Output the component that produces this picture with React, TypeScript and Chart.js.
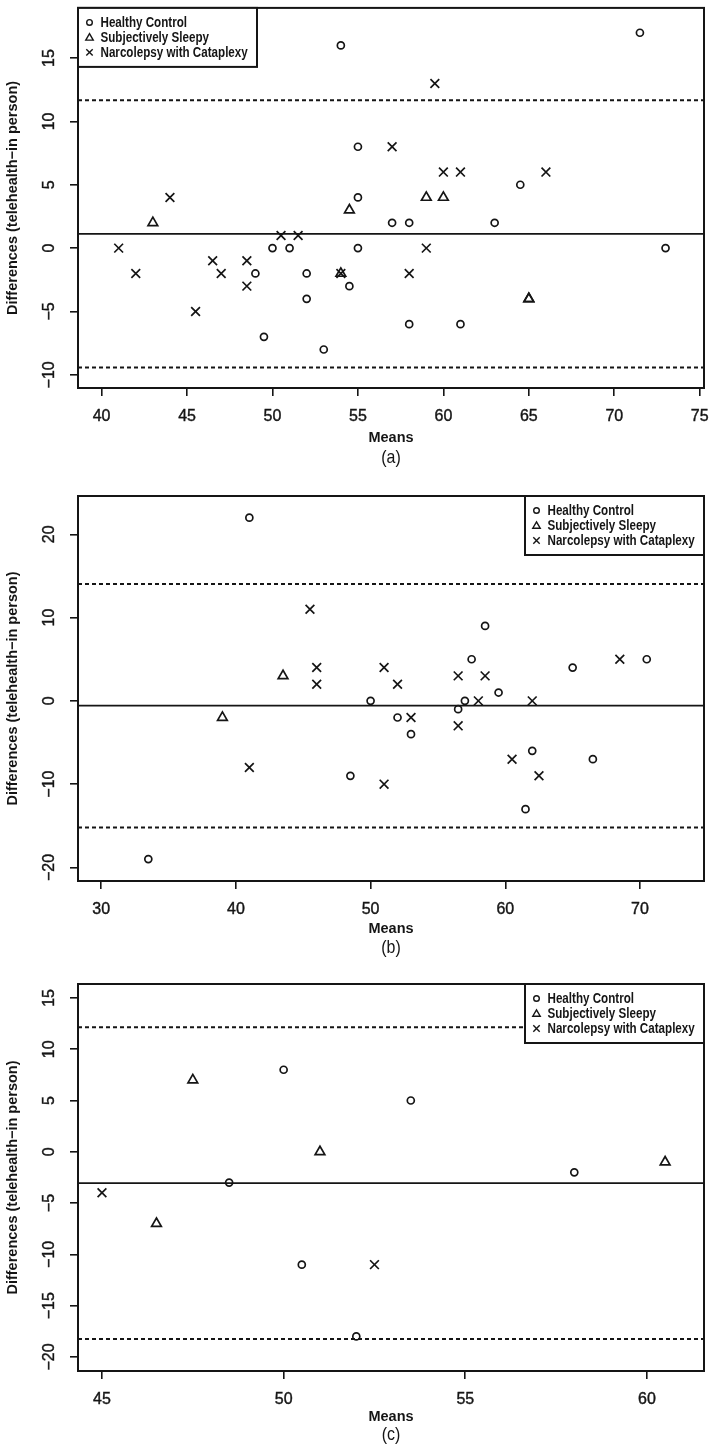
import React, { useEffect, useRef } from "react";
import { Chart, registerables } from "chart.js";

Chart.register(...registerables);

// ---------- text ----------
const SERIES_NAMES = ["Healthy Control", "Subjectively Sleepy", "Narcolepsy with Cataplexy"];
const X_TITLE = "Means";
const Y_TITLE = "Differences (telehealth\u2212in person)";

// ---------- panel (a) ----------
const aHealthyX = [54, 71.5, 55, 55, 64.5, 57, 58, 63, 50, 51, 55, 73, 49, 52, 52, 54.5, 49.5, 53, 58, 61];
const aHealthyY = [16, 17, 8, 4, 5, 2, 2, 2, 0, 0, 0, 0, -2, -2, -4, -3, -7, -8, -6, -6];
const aSleepyX = [43, 54.5, 59, 60, 54, 65, 65];
const aSleepyY = [2, 3, 4, 4, -2, -4, -4];
const aNarcoX = [41, 42, 44, 45.5, 46.5, 47, 48.5, 48.5, 50.5, 51.5, 54, 57, 59.5, 60, 61, 66, 58, 59];
const aNarcoY = [0, -2, 4, -5, -1, -2, -1, -3, 1, 1, -2, 8, 13, 6, 6, 6, -2, 0];
const aLines = [1.12, 11.67, -9.42]; // mean difference, upper and lower limits of agreement
const aXTicks = [40, 45, 50, 55, 60, 65, 70, 75];
const aYTicks = [-10, -5, 0, 5, 10, 15];
const aXRange = [38.62, 75.25];
const aYRange = [-11.04, 18.96];

// ---------- panel (b) ----------
const bHealthyX = [41, 58.5, 57.5, 59.5, 50, 57, 56.5, 52, 53, 62, 65, 70.5, 66.5, 48.5, 61.5, 33.5];
const bHealthyY = [22, 9, 5, 1, 0, 0, -1, -2, -4, -6, 4, 5, -7, -9, -13, -19];
const bSleepyX = [43.5, 39];
const bSleepyY = [3, -2];
const bNarcoX = [45.5, 46, 46, 51, 52, 56.5, 58.5, 58, 62, 56.5, 53, 60.5, 62.5, 41, 51, 68.5];
const bNarcoY = [11, 4, 2, 4, 2, 3, 3, 0, 0, -3, -2, -7, -9, -8, -10, 5];
const bLines = [-0.58, 14.03, -15.2];
const bXTicks = [30, 40, 50, 60, 70];
const bYTicks = [-20, -10, 0, 10, 20];
const bXRange = [28.28, 74.75];
const bYRange = [-21.63, 24.6];

// ---------- panel (c) ----------
const cHealthyX = [50, 53.5, 48.5, 58, 50.5, 52];
const cHealthyY = [8, 5, -3, -2, -11, -18];
const cSleepyX = [47.5, 51, 60.5, 46.5];
const cSleepyY = [7, 0, -1, -7];
const cNarcoX = [45, 52.5];
const cNarcoY = [-4, -11];
const cLines = [-3.05, 12.15, -18.25];
const cXTicks = [45, 50, 55, 60];
const cYTicks = [-20, -15, -10, -5, 0, 5, 10, 15];
const cXRange = [44.34, 61.57];
const cYRange = [-21.37, 16.36];

// ---------- styling ----------
const INK = "#151515";
const TICK_FONT = '16px "Liberation Sans", Arial, sans-serif';
const TITLE_FONT = 'bold 14.5px "Liberation Sans", Arial, sans-serif';
const LEGEND_FONT = 'bold 14px "Liberation Sans", Arial, sans-serif';
const LEGEND_SQUEEZE = 0.83;
const CAPTION_FONT = '19px "Liberation Sans", Arial, sans-serif';
const CAPTION_SQUEEZE = 0.84;

type PanelCfg = {
  caption: string;
  height: number;
  padTop: number;
  xAxisH: number;
  meansOff: number;
  capOff: number;
  legendSide: "left" | "right";
  series: { x: number[]; y: number[] }[];
  lines: number[];
  xTicks: number[];
  yTicks: number[];
  xRange: number[];
  yRange: number[];
};

const PANELS: PanelCfg[] = [
  {
    caption: "(a)", height: 480, padTop: 4, xAxisH: 92, meansOff: 50, capOff: 70, legendSide: "left",
    series: [{ x: aHealthyX, y: aHealthyY }, { x: aSleepyX, y: aSleepyY }, { x: aNarcoX, y: aNarcoY }],
    lines: aLines, xTicks: aXTicks, yTicks: aYTicks, xRange: aXRange, yRange: aYRange,
  },
  {
    caption: "(b)", height: 490, padTop: 16, xAxisH: 89, meansOff: 48, capOff: 67, legendSide: "right",
    series: [{ x: bHealthyX, y: bHealthyY }, { x: bSleepyX, y: bSleepyY }, { x: bNarcoX, y: bNarcoY }],
    lines: bLines, xTicks: bXTicks, yTicks: bYTicks, xRange: bXRange, yRange: bYRange,
  },
  {
    caption: "(c)", height: 482, padTop: 14, xAxisH: 81, meansOff: 46, capOff: 64, legendSide: "right",
    series: [{ x: cHealthyX, y: cHealthyY }, { x: cSleepyX, y: cSleepyY }, { x: cNarcoX, y: cNarcoY }],
    lines: cLines, xTicks: cXTicks, yTicks: cYTicks, xRange: cXRange, yRange: cYRange,
  },
];

const POINT_STYLES = ["circle", "triangle", "crossRot"];
const POINT_RADII = [3.5, 5.6, 6.2];

function fmt(v: number) {
  return v < 0 ? "\u2212" + Math.abs(v) : String(v);
}

function drawSymbol(ctx: CanvasRenderingContext2D, kind: number, x: number, y: number) {
  ctx.beginPath();
  if (kind === 0) {
    ctx.arc(x, y, 2.8, 0, Math.PI * 2);
  } else if (kind === 1) {
    const r = 4.3;
    for (let i = 0; i < 3; i++) {
      const a = (i * 2 * Math.PI) / 3;
      const px = x + Math.sin(a) * r;
      const py = y + 0.6 - Math.cos(a) * r;
      if (i === 0) ctx.moveTo(px, py);
      else ctx.lineTo(px, py);
    }
    ctx.closePath();
  } else {
    const d = 3.2;
    ctx.moveTo(x - d, y - d);
    ctx.lineTo(x + d, y + d);
    ctx.moveTo(x + d, y - d);
    ctx.lineTo(x - d, y + d);
  }
  ctx.stroke();
}

function squeezedText(ctx: CanvasRenderingContext2D, text: string, x: number, y: number, k: number) {
  ctx.save();
  ctx.translate(x, y);
  ctx.scale(k, 1);
  ctx.fillText(text, 0, 0);
  ctx.restore();
}

function makePlugin(cfg: PanelCfg) {
  return {
    id: "rstyle",
    beforeDatasetsDraw(chart: any) {
      const { ctx, chartArea: a, scales } = chart;
      const ys = scales.y;
      ctx.save();
      ctx.beginPath();
      ctx.rect(a.left, a.top, a.right - a.left, a.bottom - a.top);
      ctx.clip();
      cfg.lines.forEach((v, i) => {
        const py = ys.getPixelForValue(v);
        ctx.strokeStyle = INK;
        ctx.lineWidth = i === 0 ? 1.7 : 2;
        ctx.setLineDash(i === 0 ? [] : [4, 3]);
        ctx.beginPath();
        ctx.moveTo(a.left, py);
        ctx.lineTo(a.right, py);
        ctx.stroke();
      });
      ctx.restore();
    },
    afterDraw(chart: any) {
      const { ctx, chartArea: a, scales } = chart;
      const ys = scales.y;
      ctx.save();
      // plot box
      ctx.strokeStyle = INK;
      ctx.lineWidth = 2;
      ctx.setLineDash([]);
      ctx.strokeRect(a.left, a.top, a.right - a.left, a.bottom - a.top);

      // y tick labels (rotated, R style)
      ctx.fillStyle = INK;
      ctx.font = TICK_FONT;
      ctx.textAlign = "center";
      ctx.textBaseline = "middle";
      ctx.lineWidth = 0.4;
      ys.ticks.forEach((t: any) => {
        const py = ys.getPixelForValue(t.value);
        ctx.save();
        ctx.translate(a.left - 28, py);
        ctx.rotate(-Math.PI / 2);
        ctx.fillText(fmt(t.value), 0, 0);
        ctx.strokeText(fmt(t.value), 0, 0);
        ctx.restore();
      });

      // axis titles
      ctx.font = TITLE_FONT;
      ctx.save();
      ctx.translate(13, (a.top + a.bottom) / 2);
      ctx.rotate(-Math.PI / 2);
      ctx.fillText(Y_TITLE, 0, 0);
      ctx.restore();
      const cx = (a.left + a.right) / 2;
      ctx.fillText(X_TITLE, cx, a.bottom + cfg.meansOff);
      ctx.font = CAPTION_FONT;
      squeezedText(ctx, cfg.caption, cx, a.bottom + cfg.capOff, CAPTION_SQUEEZE);

      // legend
      const lw = 179;
      const lh = 59;
      const lx = cfg.legendSide === "left" ? a.left : a.right - lw;
      const ly = a.top;
      ctx.fillStyle = "#ffffff";
      ctx.fillRect(lx, ly, lw, lh);
      ctx.strokeStyle = INK;
      ctx.lineWidth = 2;
      ctx.strokeRect(lx, ly, lw, lh);
      ctx.font = LEGEND_FONT;
      ctx.textAlign = "left";
      ctx.fillStyle = INK;
      SERIES_NAMES.forEach((name, i) => {
        const ey = ly + 14.5 + i * 15;
        ctx.lineWidth = 1.4;
        drawSymbol(ctx, i, lx + 11.5, ey);
        squeezedText(ctx, name, lx + 22.5, ey + 0.5, LEGEND_SQUEEZE);
      });
      ctx.restore();
    },
  };
}

function Panel({ cfg }: { cfg: PanelCfg }) {
  const ref = useRef<HTMLCanvasElement>(null);
  useEffect(() => {
    const canvas = ref.current;
    if (!canvas) return;
    const datasets = cfg.series.map((s, i) => ({
      label: SERIES_NAMES[i],
      data: s.x.map((x, j) => ({ x, y: s.y[j] })),
      pointStyle: POINT_STYLES[i] as any,
      pointRadius: POINT_RADII[i],
      pointBorderWidth: 1.7,
      pointBorderColor: INK,
      pointBackgroundColor: "rgba(0,0,0,0)",
      borderColor: INK,
      backgroundColor: "rgba(0,0,0,0)",
      showLine: false,
    }));
    const chart = new Chart(canvas, {
      type: "scatter",
      data: { datasets },
      options: {
        animation: false,
        responsive: false,
        devicePixelRatio: 1,
        events: [],
        layout: { padding: { top: cfg.padTop, right: 12, left: 0, bottom: 0 } },
        plugins: { legend: { display: false }, tooltip: { enabled: false }, title: { display: false } },
        scales: {
          x: {
            type: "linear",
            min: cfg.xRange[0],
            max: cfg.xRange[1],
            afterBuildTicks: (s: any) => {
              s.ticks = cfg.xTicks.map((v) => ({ value: v }));
            },
            afterFit: (s: any) => {
              s.height = cfg.xAxisH;
              s.paddingLeft = 0;
              s.paddingRight = 0;
            },
            grid: { display: true, drawOnChartArea: false, drawTicks: true, tickLength: 8, color: INK, lineWidth: 1.6 },
            border: { display: false },
            ticks: {
              includeBounds: false,
              autoSkip: false,
              maxRotation: 0,
              minRotation: 0,
              padding: 10.5,
              color: INK,
              textStrokeColor: INK,
              textStrokeWidth: 0.4,
              font: { family: '"Liberation Sans", Arial, sans-serif', size: 16 },
              callback: (v: any) => fmt(Number(v)),
            },
          },
          y: {
            type: "linear",
            min: cfg.yRange[0],
            max: cfg.yRange[1],
            afterBuildTicks: (s: any) => {
              s.ticks = cfg.yTicks.map((v) => ({ value: v }));
            },
            afterFit: (s: any) => {
              s.width = 78;
              s.paddingTop = 0;
              s.paddingBottom = 0;
            },
            grid: { display: true, drawOnChartArea: false, drawTicks: true, tickLength: 8, color: INK, lineWidth: 1.6 },
            border: { display: false },
            ticks: { display: false, includeBounds: false },
          },
        },
      },
      plugins: [makePlugin(cfg)],
    } as any);
    return () => chart.destroy();
  }, [cfg]);
  return (
    <canvas
      ref={ref}
      width={716}
      height={cfg.height}
      style={{ display: "block", width: 716, height: cfg.height }}
    />
  );
}

export default function App() {
  return (
    <div style={{ position: "absolute", left: 0, top: 0, width: 716, height: 1452, background: "#ffffff" }}>
      {PANELS.map((p) => (
        <Panel key={p.caption} cfg={p} />
      ))}
    </div>
  );
}
